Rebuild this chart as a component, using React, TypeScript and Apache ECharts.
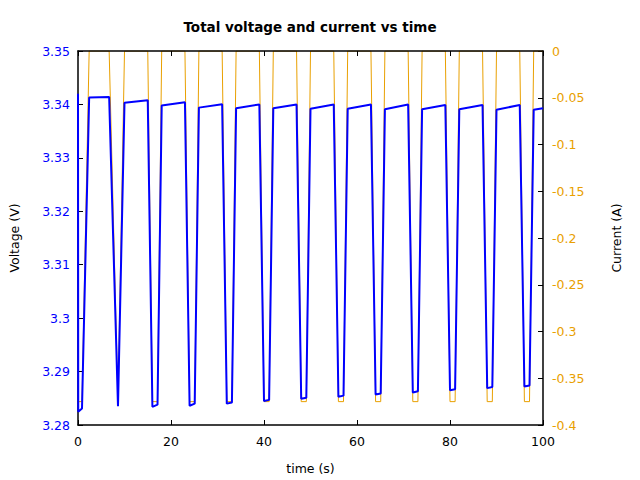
import React, { useEffect, useRef } from "react";
import * as echarts from "echarts";

const timeS = [
  0, 0.05, 0.86, 2.4, 6.7, 8.6, 10.0, 15.0, 16.0, 17.1, 18.0, 23.0, 24.0, 25.1, 26.0,
  31.0, 32.0, 33.1, 34.0, 39.0, 40.0, 41.1, 42.0, 47.0, 48.0, 49.1, 50.0, 55.0, 56.0,
  57.1, 58.0, 63.0, 64.0, 65.1, 66.0, 71.0, 72.0, 73.1, 74.0, 79.0, 80.0, 81.1, 82.0,
  87.0, 88.0, 89.1, 90.0, 95.0, 96.0, 97.1, 98.0, 100.0,
];

const voltageV = [
  3.342, 3.2825, 3.2831, 3.3413, 3.3414, 3.2835, 3.3403, 3.3408, 3.2834, 3.2838, 3.3398,
  3.3404, 3.2836, 3.284, 3.3394, 3.34005, 3.284, 3.2842, 3.3393, 3.34, 3.2845, 3.2847,
  3.3393, 3.34, 3.2849, 3.2851, 3.3392, 3.34, 3.2853, 3.2855, 3.3392, 3.34, 3.2857,
  3.2859, 3.3391, 3.34, 3.2861, 3.2863, 3.3391, 3.3399, 3.2865, 3.2867, 3.3391, 3.3399,
  3.2869, 3.2871, 3.339, 3.3399, 3.2872, 3.2874, 3.339, 3.3393,
];

const currentA = [
  -0.375, -0.375, -0.375, 0, 0, -0.375, 0, 0, -0.375, -0.375, 0, 0, -0.375, -0.375, 0, 0,
  -0.375, -0.375, 0, 0, -0.375, -0.375, 0, 0, -0.375, -0.375, 0, 0, -0.375, -0.375, 0,
  0, -0.375, -0.375, 0, 0, -0.375, -0.375, 0, 0, -0.375, -0.375, 0, 0, -0.375, -0.375,
  0, 0, -0.375, -0.375, 0, 0,
];

const BLUE = "#0000ff";
const ORANGE = "#e9a000";
const FONT = "DejaVu Sans";
const FS = 12.5;

export default function App() {
  const ref = useRef<HTMLDivElement>(null);
  useEffect(() => {
    const chart = echarts.init(ref.current!, null, { renderer: "svg" });
    const fmt = (v: number) => String(+v.toFixed(2));
    chart.setOption({
      animation: false,
      backgroundColor: "#ffffff",
      title: {
        text: "Total voltage and current vs time",
        left: 305,
        top: 15,
        textAlign: "center",
        textStyle: { fontFamily: FONT, fontSize: 13.5, fontWeight: "bold", color: "#000" },
      },
      grid: { left: 77, right: 97, top: 51, bottom: 54, show: false },
      xAxis: [
        {
          type: "value",
          min: 0,
          max: 100,
          interval: 20,
          position: "bottom",
          name: "time (s)",
          nameLocation: "middle",
          nameGap: 37,
          nameTextStyle: { fontFamily: FONT, fontSize: FS, color: "#000" },
          axisLine: { show: true, onZero: false, lineStyle: { color: "#000", width: 1.5 } },
          axisTick: { show: true, inside: true, length: 5, lineStyle: { color: "#000" } },
          axisLabel: { fontFamily: FONT, fontSize: FS, color: "#000", margin: 10 },
          splitLine: { show: false },
        },
        {
          type: "value",
          min: 0,
          max: 100,
          interval: 20,
          position: "top",
          z: 5,
          axisLine: { show: true, onZero: false, lineStyle: { color: "#000", width: 1.5 } },
          axisTick: { show: true, inside: true, length: 5, lineStyle: { color: "#000" } },
          axisLabel: { show: false },
          splitLine: { show: false },
        },
      ],
      yAxis: [
        {
          type: "value",
          min: 3.28,
          max: 3.35,
          interval: 0.01,
          position: "left",
          name: "Voltage (V)",
          nameLocation: "middle",
          nameGap: 57,
          nameTextStyle: { fontFamily: FONT, fontSize: FS, color: "#000" },
          axisLine: { show: true, onZero: false, lineStyle: { color: "#000", width: 1.5 } },
          axisTick: { show: true, inside: true, length: 5, lineStyle: { color: "#000" } },
          axisLabel: { fontFamily: FONT, fontSize: FS, color: BLUE, margin: 8, formatter: fmt },
          splitLine: { show: false },
        },
        {
          type: "value",
          min: -0.4,
          max: 0,
          interval: 0.05,
          position: "right",
          name: "Current (A)",
          nameLocation: "middle",
          nameGap: 67,
          nameTextStyle: { fontFamily: FONT, fontSize: FS, color: "#000" },
          axisLine: { show: true, onZero: false, lineStyle: { color: "#000", width: 1.5 } },
          axisTick: { show: true, inside: true, length: 5, lineStyle: { color: "#000" } },
          axisLabel: { fontFamily: FONT, fontSize: FS, color: ORANGE, margin: 9, formatter: fmt },
          splitLine: { show: false },
        },
      ],
      series: [
        {
          type: "line",
          name: "Current",
          xAxisIndex: 0,
          yAxisIndex: 1,
          data: timeS.map((t, i) => [t, currentA[i]]),
          showSymbol: false,
          symbol: "none",
          lineStyle: { color: ORANGE, width: 1 },
        },
        {
          type: "line",
          name: "Voltage",
          xAxisIndex: 0,
          yAxisIndex: 0,
          data: timeS.map((t, i) => [t, voltageV[i]]),
          showSymbol: false,
          symbol: "none",
          lineStyle: { color: BLUE, width: 2 },
        },
      ],
    });
    return () => chart.dispose();
  }, []);
  return <div ref={ref} style={{ width: 640, height: 480, position: "absolute", left: 0, top: 0 }} />;
}
